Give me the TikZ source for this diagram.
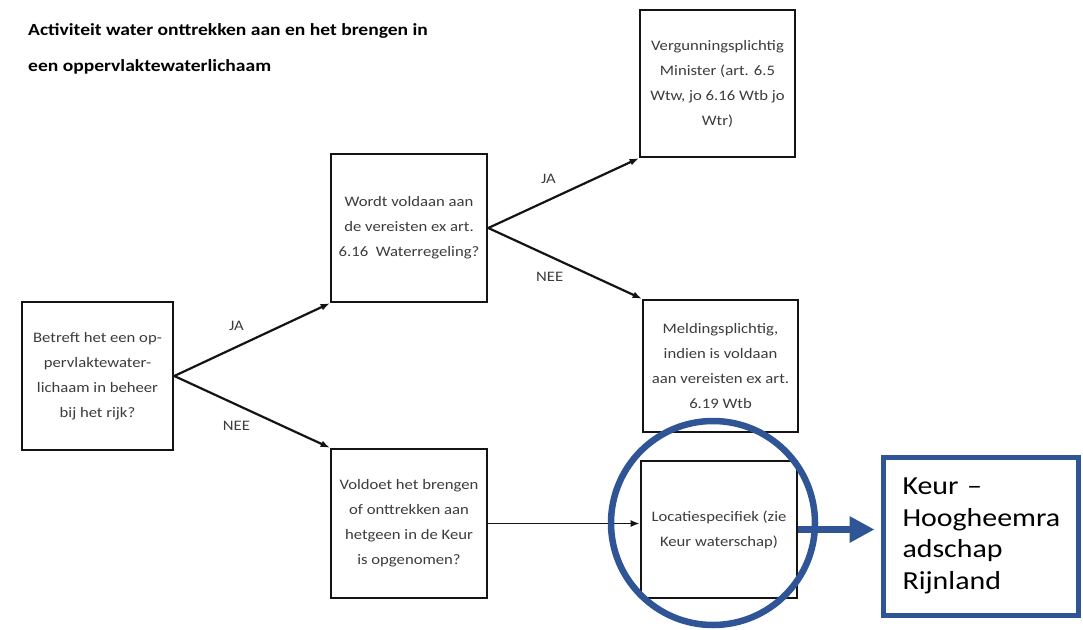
\documentclass[tikz,border=0pt]{standalone}
\usepackage{fontspec}
\setmainfont{Carlito}[FakeStretch=1.15]
\usetikzlibrary{
  arrows.meta,
  positioning
}
\definecolor{ink}{HTML}{141414}
\definecolor{greytext}{HTML}{3C3C3C}
\definecolor{keurblue}{HTML}{2F5597}
\tikzset{
  heading/.style={
    anchor=north west,
    align=left,
    inner sep=0pt,
    font=\fontsize{17}{36}\selectfont\bfseries
  },
  stepbox/.style={
    draw=ink,
    fill=white,
    line width=2.6pt,
    text=greytext,
    align=center,
    inner sep=0pt,
    font=\fontsize{14.5}{25}\selectfont
  },
  choice/.style={
    -{Latex[length=9pt,width=7pt]},
    line width=2.2pt,
    draw=ink
  },
  choicelabel/.style={
    text=greytext,
    inner sep=1pt,
    font=\fontsize{14.5}{17}\selectfont
  },
  keurbox/.style={
    draw=keurblue,
    line width=5pt,
    fill=white,
    align=left,
    inner sep=0pt,
    font=\fontsize{26}{31.5}\selectfont
  },
  keurflow/.style={
    -{Triangle[length=25pt,width=25pt]},
    line width=7pt,
    draw=keurblue
  }
}

\begin{document}
\begin{tikzpicture}[x=1pt, y=-1pt]
  \useasboundingbox[fill=white] (0,0) rectangle (1083,629);

  \node[heading] (title) at (28,23)
    {Activiteit water onttrekken aan en het brengen in\\een oppervlaktewaterlichaam};

  % vragen en uitkomsten
  \node[stepbox, minimum width=151, minimum height=148] (rijk) at (97.5,376)
    {Betreft het een op-\\pervlaktewater-\\lichaam in beheer\\bij het rijk?};
  \node[stepbox, minimum width=156, minimum height=148] (eisen) at (409,228)
    {Wordt voldaan aan\\de vereisten ex art.\\6.16\ \ Waterregeling?};
  \node[stepbox, minimum width=156, minimum height=149] (keurvraag) at (409,523.5)
    {Voldoet het brengen\\of onttrekken aan\\hetgeen in de Keur\\is opgenomen?};
  \node[stepbox, minimum width=155, minimum height=147] (vergunning) at (717.5,83.5)
    {Vergunningsplichtig\\Minister (art. 6.5\\Wtw, jo 6.16 Wtb jo\\Wtr)};
  \node[stepbox, minimum width=155, minimum height=132] (melding) at (720.5,366)
    {Meldingsplichtig,\\indien is voldaan\\aan vereisten ex art.\\6.19 Wtb};
  \node[stepbox, minimum width=156, minimum height=137] (locatie) at (719,529.5)
    {Locatiespecifiek (zie\\Keur waterschap)};

  \draw[choice] (rijk.east) -- node[choicelabel, pos=0.4, above=14pt] {JA} (eisen.south west);
  \draw[choice] (rijk.east) -- node[choicelabel, pos=0.4, below=14pt] {NEE} (keurvraag.north west);
  \draw[choice] (eisen.east) -- node[choicelabel, pos=0.4, above=14pt] {JA} (vergunning.south west);
  \draw[choice] (eisen.east) -- node[choicelabel, pos=0.4, below=14pt] {NEE} (melding.north west);
  \draw[choice, line width=1.8pt] (keurvraag.east) -- (keurvraag.east -| locatie.west);

  % markering Keur
  \node[draw=keurblue, line width=6.5pt, circle, minimum size=204] (ring) at (713,523) {};
  \node[keurbox, minimum width=195, minimum height=158, text width=156] (rijnland) at (980.5,536)
    {Keur~--\\Hoogheemra\\adschap\\Rijnland};
  \draw[keurflow, shorten >=6pt] (locatie.east) -- (locatie.east -| rijnland.west);
\end{tikzpicture}
\end{document}
